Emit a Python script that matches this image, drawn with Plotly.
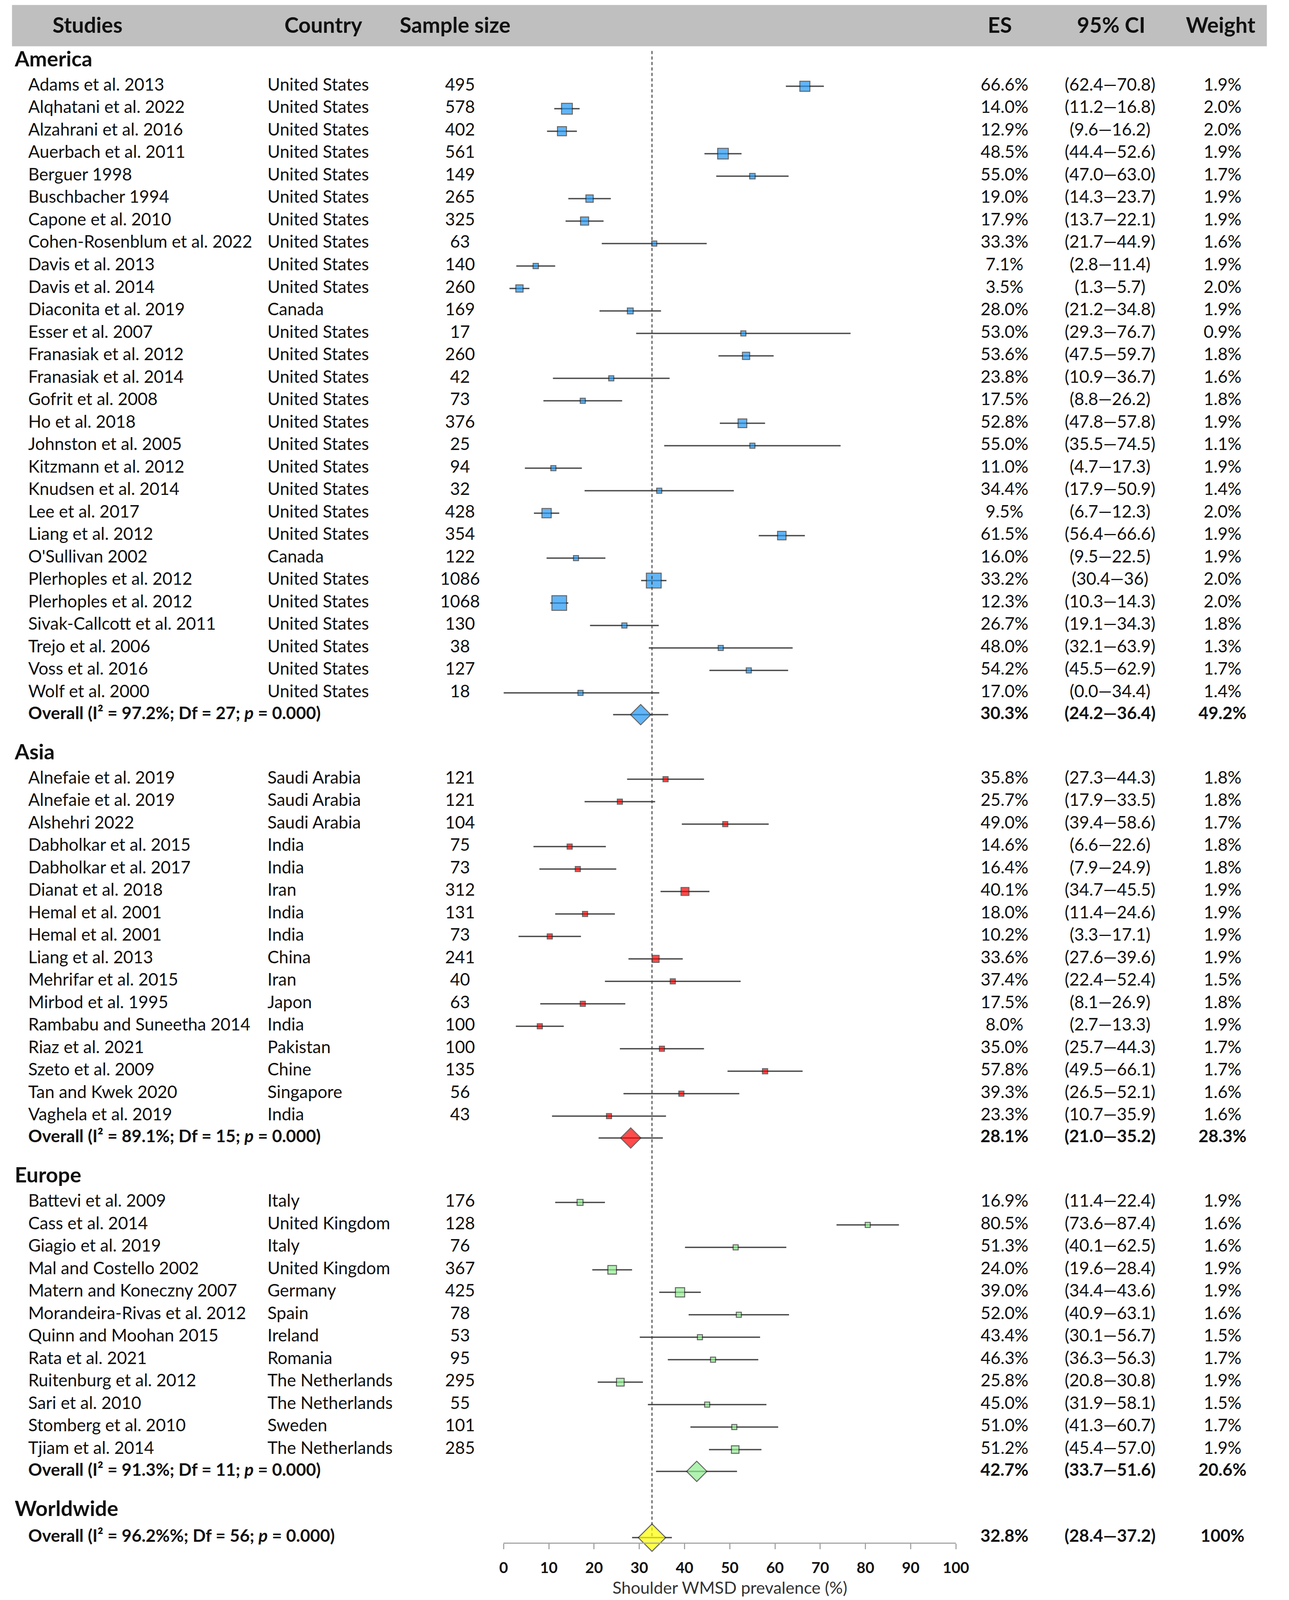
import numpy as np
import plotly.graph_objects as go


## Data
# America
am_study = ["Adams et al. 2013", "Alqhatani et al. 2022", "Alzahrani et al. 2016", "Auerbach et al. 2011",
            "Berguer 1998", "Buschbacher 1994", "Capone et al. 2010", "Cohen-Rosenblum et al. 2022",
            "Davis et al. 2013", "Davis et al. 2014", "Diaconita et al. 2019", "Esser et al. 2007",
            "Franasiak et al. 2012", "Franasiak et al. 2014", "Gofrit et al. 2008", "Ho et al. 2018",
            "Johnston et al. 2005", "Kitzmann et al. 2012", "Knudsen et al. 2014", "Lee et al. 2017",
            "Liang et al. 2012", "O'Sullivan 2002", "Plerhoples et al. 2012", "Plerhoples et al. 2012",
            "Sivak-Callcott et al. 2011", "Trejo et al. 2006", "Voss et al. 2016", "Wolf et al. 2000"]
am_country = ["United States"] * 10 + ["Canada"] + ["United States"] * 10 + ["Canada"] + ["United States"] * 6
am_n = [495, 578, 402, 561, 149, 265, 325, 63, 140, 260, 169, 17, 260, 42, 73, 376, 25, 94, 32, 428,
        354, 122, 1086, 1068, 130, 38, 127, 18]
am_es = [66.6, 14.0, 12.9, 48.5, 55.0, 19.0, 17.9, 33.3, 7.1, 3.5, 28.0, 53.0, 53.6, 23.8, 17.5, 52.8,
         55.0, 11.0, 34.4, 9.5, 61.5, 16.0, 33.2, 12.3, 26.7, 48.0, 54.2, 17.0]
am_lo = ["62.4", "11.2", "9.6", "44.4", "47.0", "14.3", "13.7", "21.7", "2.8", "1.3", "21.2", "29.3",
         "47.5", "10.9", "8.8", "47.8", "35.5", "4.7", "17.9", "6.7", "56.4", "9.5", "30.4", "10.3",
         "19.1", "32.1", "45.5", "0.0"]
am_hi = ["70.8", "16.8", "16.2", "52.6", "63.0", "23.7", "22.1", "44.9", "11.4", "5.7", "34.8", "76.7",
         "59.7", "36.7", "26.2", "57.8", "74.5", "17.3", "50.9", "12.3", "66.6", "22.5", "36", "14.3",
         "34.3", "63.9", "62.9", "34.4"]
am_w = [1.9, 2.0, 2.0, 1.9, 1.7, 1.9, 1.9, 1.6, 1.9, 2.0, 1.9, 0.9, 1.8, 1.6, 1.8, 1.9, 1.1, 1.9, 1.4,
        2.0, 1.9, 1.9, 2.0, 2.0, 1.8, 1.3, 1.7, 1.4]

# Asia
as_study = ["Alnefaie et al. 2019", "Alnefaie et al. 2019", "Alshehri 2022", "Dabholkar et al. 2015",
            "Dabholkar et al. 2017", "Dianat et al. 2018", "Hemal et al. 2001", "Hemal et al. 2001",
            "Liang et al. 2013", "Mehrifar et al. 2015", "Mirbod et al. 1995", "Rambabu and Suneetha 2014",
            "Riaz et al. 2021", "Szeto et al. 2009", "Tan and Kwek 2020", "Vaghela et al. 2019"]
as_country = ["Saudi Arabia", "Saudi Arabia", "Saudi Arabia", "India", "India", "Iran", "India", "India",
              "China", "Iran", "Japon", "India", "Pakistan", "Chine", "Singapore", "India"]
as_n = [121, 121, 104, 75, 73, 312, 131, 73, 241, 40, 63, 100, 100, 135, 56, 43]
as_es = [35.8, 25.7, 49.0, 14.6, 16.4, 40.1, 18.0, 10.2, 33.6, 37.4, 17.5, 8.0, 35.0, 57.8, 39.3, 23.3]
as_lo = ["27.3", "17.9", "39.4", "6.6", "7.9", "34.7", "11.4", "3.3", "27.6", "22.4", "8.1", "2.7",
         "25.7", "49.5", "26.5", "10.7"]
as_hi = ["44.3", "33.5", "58.6", "22.6", "24.9", "45.5", "24.6", "17.1", "39.6", "52.4", "26.9", "13.3",
         "44.3", "66.1", "52.1", "35.9"]
as_w = [1.8, 1.8, 1.7, 1.8, 1.8, 1.9, 1.9, 1.9, 1.9, 1.5, 1.8, 1.9, 1.7, 1.7, 1.6, 1.6]

# Europe
eu_study = ["Battevi et al. 2009", "Cass et al. 2014", "Giagio et al. 2019", "Mal and Costello 2002",
            "Matern and Koneczny 2007", "Morandeira-Rivas et al. 2012", "Quinn and Moohan 2015",
            "Rata et al. 2021", "Ruitenburg et al. 2012", "Sari et al. 2010", "Stomberg et al. 2010",
            "Tjiam et al. 2014"]
eu_country = ["Italy", "United Kingdom", "Italy", "United Kingdom", "Germany", "Spain", "Ireland",
              "Romania", "The Netherlands", "The Netherlands", "Sweden", "The Netherlands"]
eu_n = [176, 128, 76, 367, 425, 78, 53, 95, 295, 55, 101, 285]
eu_es = [16.9, 80.5, 51.3, 24.0, 39.0, 52.0, 43.4, 46.3, 25.8, 45.0, 51.0, 51.2]
eu_lo = ["11.4", "73.6", "40.1", "19.6", "34.4", "40.9", "30.1", "36.3", "20.8", "31.9", "41.3", "45.4"]
eu_hi = ["22.4", "87.4", "62.5", "28.4", "43.6", "63.1", "56.7", "56.3", "30.8", "58.1", "60.7", "57.0"]
eu_w = [1.9, 1.6, 1.6, 1.9, 1.9, 1.6, 1.5, 1.7, 1.9, 1.5, 1.7, 1.9]

# pooled estimates: America, Asia, Europe, Worldwide
section_names = ["America", "Asia", "Europe", "Worldwide"]
overall_label = ["Overall (I² = 97.2%; Df = 27; <i>p</i> = 0.000)",
                 "Overall (I² = 89.1%; Df = 15; <i>p</i> = 0.000)",
                 "Overall (I² = 91.3%; Df = 11; <i>p</i> = 0.000)",
                 "Overall (I² = 96.2%%; Df = 56; <i>p</i> = 0.000)"]
overall_es = [30.3, 28.1, 42.7, 32.8]
overall_lo = ["24.2", "21.0", "33.7", "28.4"]
overall_hi = ["36.4", "35.2", "51.6", "37.2"]
overall_w = [49.2, 28.3, 20.6, 100]

header_labels = ["Studies", "Country", "Sample size", "ES", "95% CI", "Weight"]
x_ticks = list(range(0, 101, 10))

## Styling
FONT = "Lato, 'Open Sans', sans-serif"
TXT = "#111111"
box_colors = ["#2196F3", "#FF0000", "#90EE90", "#FFFF00"]
edge = "#262626"

# column positions (px across the 3300 px page)
col_section, col_study, col_country = 27, 62, 683
col_n, col_es, col_ci, col_w = 1183, 2596, 2870, 3162
head_x = [216, 828, 1170, 2584, 2873, 3157]

# row layout (row units, top to bottom)
hdr_to_first, last_to_overall, overall_to_hdr, world_gap = 1.12, 0.97, 1.75, 1.2


def w_txt(w):
    return f"{w:.1f}%" if w < 100 else f"{w:.0f}%"


studies = [(am_study, am_country, am_n, am_es, am_lo, am_hi, am_w),
           (as_study, as_country, as_n, as_es, as_lo, as_hi, as_w),
           (eu_study, eu_country, eu_n, eu_es, eu_lo, eu_hi, eu_w)]

sec_y, study_y, overall_y = [], [], []
y = -0.1
for k, name in enumerate(section_names):
    sec_y.append(y)
    if k < len(studies):
        ys = [y + hdr_to_first + i for i in range(len(studies[k][0]))]
        study_y.append(ys)
        overall_y.append(ys[-1] + last_to_overall)
        y = overall_y[-1] + overall_to_hdr
    else:
        overall_y.append(y + world_gap)

fig = go.Figure()

# header band
fig.add_shape(type="rect", xref="x2", yref="y", x0=20, x1=3277, y0=-2.6, y1=-0.76,
              fillcolor="#BFBFBF", line_width=0, layer="below")

# confidence intervals
for k in range(4):
    cx, cy = [], []
    if k < 3:
        for lo, hi, yy in zip(studies[k][4], studies[k][5], study_y[k]):
            cx += [float(lo), float(hi), None]
            cy += [yy, yy, None]
    cx += [float(overall_lo[k]), float(overall_hi[k]), None]
    cy += [overall_y[k], overall_y[k], None]
    fig.add_trace(go.Scatter(x=cx, y=cy, mode="lines", line=dict(color="#4D4D4D", width=3.5),
                             hoverinfo="skip", showlegend=False, cliponaxis=False))

# study boxes, sized by sample size
for k in range(3):
    n = np.array(studies[k][2])
    fig.add_trace(go.Scatter(x=studies[k][3], y=study_y[k], mode="markers",
                             marker=dict(symbol="square", size=np.maximum(13, 1.15 * np.sqrt(n)),
                                         color=box_colors[k], line=dict(color=edge, width=2.5)),
                             hoverinfo="skip", showlegend=False, cliponaxis=False))

# reference line at the worldwide pooled estimate
fig.add_trace(go.Scatter(x=[overall_es[3], overall_es[3]], y=[-0.55, overall_y[3]], mode="lines",
                         line=dict(color="#3A3A3A", width=2.5, dash="8px,6px"),
                         hoverinfo="skip", showlegend=False, cliponaxis=False))

# pooled diamonds
fig.add_trace(go.Scatter(x=overall_es, y=overall_y, mode="markers",
                         marker=dict(symbol="diamond", size=[40, 40, 40, 54], color=box_colors,
                                     line=dict(color=edge, width=2.5)),
                         hoverinfo="skip", showlegend=False, cliponaxis=False))


def text_col(xpos, ys, labels, pos, size=44, bold=False):
    lab = [f"<b>{t}</b>" if bold else t for t in labels]
    fig.add_trace(go.Scatter(x=[xpos] * len(ys), y=ys, mode="text", text=lab, textposition=pos,
                             textfont=dict(family=FONT, size=size, color=TXT),
                             xaxis="x2", hoverinfo="skip", showlegend=False, cliponaxis=False))


# header row
for hx, hl in zip(head_x, header_labels):
    text_col(hx, [-1.6], [hl], "middle center", size=55, bold=True)

# section titles
text_col(col_section, sec_y, section_names, "middle right", size=54, bold=True)

# study rows
all_y = sum(study_y, [])
all_study = am_study + as_study + eu_study
all_country = am_country + as_country + eu_country
all_n = am_n + as_n + eu_n
all_es = am_es + as_es + eu_es
all_ci = [f"({lo}—{hi})" for lo, hi in zip(am_lo + as_lo + eu_lo, am_hi + as_hi + eu_hi)]
all_w = am_w + as_w + eu_w
text_col(col_study, all_y, all_study, "middle right")
text_col(col_country, all_y, all_country, "middle right")
text_col(col_n, all_y, [str(v) for v in all_n], "middle center")
text_col(col_es, all_y, [f"{v:.1f}%" for v in all_es], "middle center")
text_col(col_ci, all_y, all_ci, "middle center")
text_col(col_w, all_y, [w_txt(v) for v in all_w], "middle center")

# pooled rows
text_col(col_study, overall_y, overall_label, "middle right", bold=True)
text_col(col_es, overall_y, [f"{v:.1f}%" for v in overall_es], "middle center", bold=True)
text_col(col_ci, overall_y, [f"({lo}—{hi})" for lo, hi in zip(overall_lo, overall_hi)],
         "middle center", bold=True)
text_col(col_w, overall_y, [w_txt(v) for v in overall_w], "middle center", bold=True)

## Plot Properties
# size follows the browser window, so the whole table stays visible
fig.update_layout(
    autosize=True,
    margin=dict(l=0, r=0, t=0, b=147),
    paper_bgcolor="white", plot_bgcolor="rgba(0,0,0,0)",
    font=dict(family=FONT, color=TXT),
    xaxis=dict(domain=[1296 / 3300, 2470 / 3300], range=[0, 100], anchor="y",
               tickvals=x_ticks, ticktext=[f"<b>{t}</b>" for t in x_ticks],
               ticks="outside", ticklen=14, tickwidth=2.5,
               tickcolor="#A6A6A6", showline=True, linecolor="#A6A6A6", linewidth=3,
               showgrid=False, zeroline=False, ticklabelstandoff=14,
               tickfont=dict(family=FONT, size=39, color="#111111")),
    xaxis2=dict(domain=[0, 1], range=[0, 3300], anchor="y", visible=False),
    yaxis=dict(domain=[0, 1], range=[65.84, -2.82], visible=False),
    annotations=[dict(x=50, xref="x", y=0, yref="paper", yshift=-114, yanchor="middle",
                      text="Shoulder WMSD prevalence (%)", showarrow=False,
                      font=dict(family=FONT, size=43, color="#333333"))],
)

fig.write_html("out.html", config={"responsive": True, "displayModeBar": False},
               default_width="100vw", default_height="100vh",
               post_script="document.body.style.margin='0';document.body.style.overflow='hidden';"
                           "Plotly.Plots.resize(document.getElementById('{plot_id}'));")
